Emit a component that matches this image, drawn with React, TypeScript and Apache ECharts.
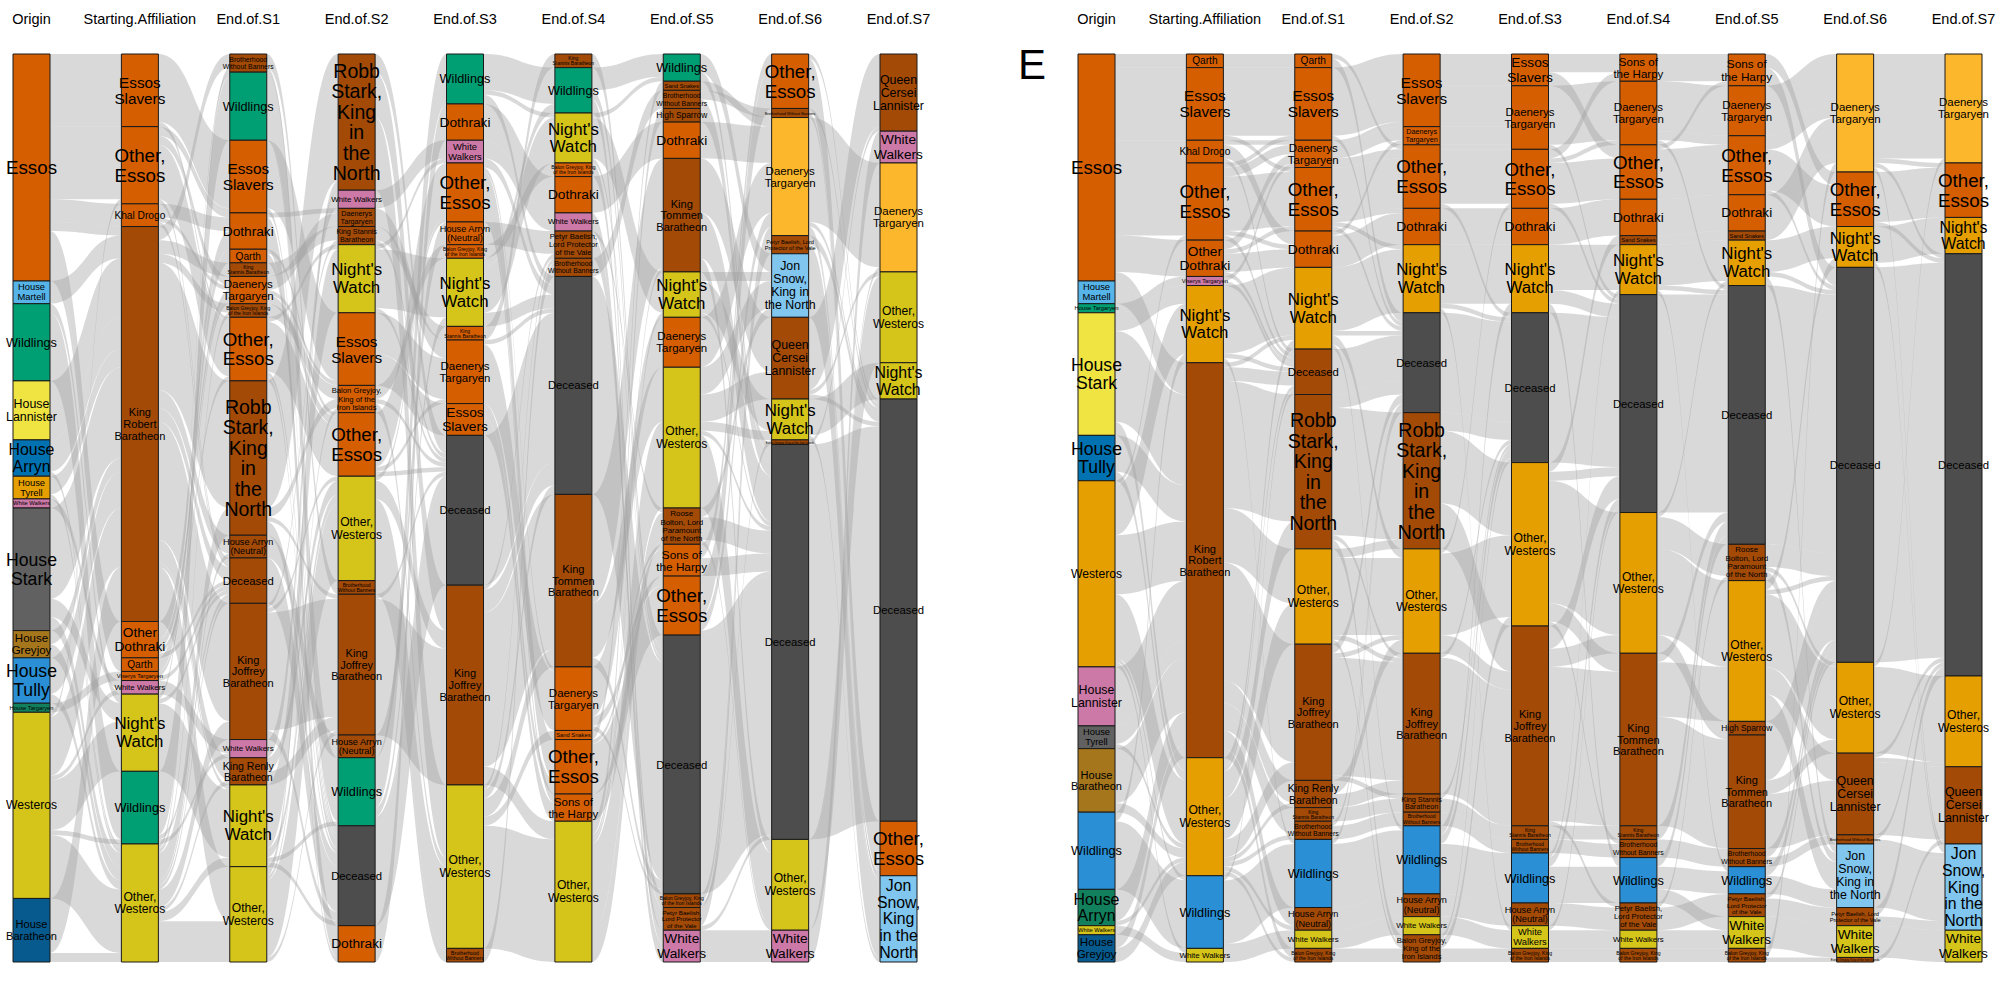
import React, { useEffect, useRef } from "react";
import * as echarts from "echarts";

// ---------- names ----------
const ES = "Essos Slavers", OE = "Other, Essos", KD = "Khal Drogo", KRB = "King Robert Baratheon";
const OD = "Other Dothraki", QA = "Qarth", VT = "Viserys Targaryen", WW = "White Walkers";
const NW = "Night's Watch", WI = "Wildlings", OW = "Other, Westeros", BWB = "Brotherhood Without Banners";
const DO = "Dothraki", KSB = "King Stannis Baratheon", DT = "Daenerys Targaryen";
const BG = "Balon Greyjoy, King of the Iron Islands", RS = "Robb Stark, King in the North";
const HAN = "House Arryn (Neutral)", DEC = "Deceased", KJB = "King Joffrey Baratheon";
const KRN = "King Renly Baratheon", PB = "Petyr Baelish, Lord Protector of the Vale";
const KTB = "King Tommen Baratheon", SS = "Sand Snakes", SH = "Sons of the Harpy", HSP = "High Sparrow";
const RB = "Roose Bolton, Lord Paramount of the North", JS = "Jon Snow, King in the North";
const QCL = "Queen Cersei Lannister", EG = "Euron Greyjoy, King of the Iron Islands";

const COLUMN_TITLES = ["Origin", "Starting.Affiliation", "End.of.S1", "End.of.S2", "End.of.S3", "End.of.S4", "End.of.S5", "End.of.S6", "End.of.S7"];

// ---------- node sizes per column (panel-left order) ----------
const origin: [string, number][] = [["Essos", 50], ["House Martell", 5], [WI, 17], ["House Lannister", 13], ["House Arryn", 8], ["House Tyrell", 5], [WW, 2], ["House Stark", 27], ["House Greyjoy", 6], ["House Tully", 10], ["House Targaryen", 2], ["Westeros", 41], ["House Baratheon", 14]];
const startingAffiliation: [string, number][] = [[ES, 16], [OE, 17], [KD, 5], [KRB, 87], [OD, 8], [QA, 3], [VT, 2], [WW, 3], [NW, 17], [WI, 16], [OW, 26]];
const endS1: [string, number][] = [[BWB, 4], [WI, 15], [ES, 16], [DO, 8], [QA, 3], [KSB, 3], [DT, 6], [BG, 3], [OE, 14], [RS, 34], [HAN, 5], [DEC, 10], [KJB, 30], [WW, 4], [KRN, 6], [NW, 18], [OW, 21]];
const endS2: [string, number][] = [[RS, 30], [WW, 4], [DT, 4], [KSB, 4], [NW, 15], [ES, 16], [BG, 6], [OE, 14], [OW, 23], [BWB, 3], [KJB, 31], [HAN, 5], [WI, 15], [DEC, 22], [DO, 8]];
const endS3: [string, number][] = [[WI, 11], [DO, 8], [WW, 5], [OE, 13], [HAN, 5], [BG, 3], [NW, 15], [KSB, 3], [DT, 14], [ES, 7], [DEC, 33], [KJB, 44], [OW, 36], [BWB, 3]];
const endS4: [string, number][] = [[KSB, 3], [WI, 10], [NW, 11], [BG, 3], [DO, 8], [WW, 4], [PB, 6], [BWB, 4], [DEC, 48], [KTB, 38], [DT, 14], [SS, 2], [OE, 12], [SH, 6], [OW, 31]];
const endS5: [string, number][] = [[WI, 6], [SS, 2], [BWB, 4], [HSP, 3], [DO, 8], [KTB, 25], [NW, 10], [DT, 11], [OW, 31], [RB, 8], [SH, 7], [OE, 13], [DEC, 57], [BG, 3], [PB, 5], [WW, 7]];
const endS6: [string, number][] = [[OE, 12], [BWB, 2], [DT, 26], [PB, 4], [JS, 14], [QCL, 18], [NW, 9], [EG, 1], [DEC, 87], [OW, 20], [WW, 7]];
const endS7: [string, number][] = [[QCL, 17], [WW, 7], [DT, 24], [OW, 20], [NW, 8], [DEC, 93], [OE, 12], [JS, 19]];

// ---------- flows between consecutive columns ----------
const flowOriginStart: [string, string, number][] = [
  ["Essos", ES, 16], ["Essos", OE, 16], ["Essos", KD, 5], ["Essos", OD, 8], ["Essos", QA, 3], ["Essos", KRB, 2],
  ["House Martell", KRB, 5], [WI, WI, 15], [WI, NW, 2], ["House Lannister", KRB, 13],
  ["House Arryn", KRB, 7], ["House Arryn", OW, 1], ["House Tyrell", KRB, 4], ["House Tyrell", OW, 1], [WW, WW, 2],
  ["House Stark", KRB, 20], ["House Stark", NW, 4], ["House Stark", OW, 3], ["House Greyjoy", KRB, 3], ["House Greyjoy", OW, 3],
  ["House Tully", KRB, 8], ["House Tully", OW, 2], ["House Targaryen", VT, 2],
  ["Westeros", KRB, 13], ["Westeros", NW, 11], ["Westeros", OW, 14], ["Westeros", WI, 1], ["Westeros", OE, 1], ["Westeros", WW, 1],
  ["House Baratheon", KRB, 12], ["House Baratheon", OW, 2],
];
const flowStartS1: [string, string, number][] = [
  [ES, ES, 15], [ES, OE, 1], [OE, OE, 12], [OE, DT, 2], [OE, DO, 1], [OE, DEC, 1], [OE, ES, 1],
  [KD, DT, 1], [KD, DO, 3], [KD, DEC, 1], [OD, DO, 4], [OD, DT, 2], [OD, DEC, 1], [OD, OE, 1],
  [QA, QA, 3], [VT, DEC, 1], [VT, DT, 1], [WW, WW, 3], [NW, NW, 15], [NW, DEC, 1], [NW, WI, 1],
  [WI, WI, 14], [WI, DEC, 1], [WI, WW, 1],
  [KRB, NW, 1], [KRB, DEC, 3], [KRB, RS, 28], [KRB, KJB, 26], [KRB, KSB, 3], [KRB, KRN, 5], [KRB, BG, 2], [KRB, HAN, 4], [KRB, BWB, 3], [KRB, OW, 12],
  [OW, NW, 2], [OW, DEC, 1], [OW, RS, 6], [OW, KJB, 4], [OW, KRN, 1], [OW, BG, 1], [OW, HAN, 1], [OW, BWB, 1], [OW, OW, 9],
];
const flowS1S2: [string, string, number][] = [
  [BWB, BWB, 3], [BWB, DEC, 1], [WI, WI, 14], [WI, DEC, 1], [ES, ES, 15], [ES, DEC, 1], [DO, DO, 7], [DO, DT, 1],
  [QA, DEC, 2], [QA, OE, 1], [KSB, KSB, 3], [DT, DT, 3], [DT, OE, 2], [DT, ES, 1], [BG, BG, 3],
  [OE, OE, 11], [OE, DO, 1], [OE, DEC, 1], [OE, NW, 1], [RS, RS, 28], [RS, DEC, 3], [RS, BG, 2], [RS, KJB, 1],
  [HAN, HAN, 5], [DEC, DEC, 10], [KJB, KJB, 26], [KJB, DEC, 2], [KJB, KSB, 1], [KJB, OW, 1], [WW, WW, 4],
  [KRN, KJB, 3], [KRN, OW, 3], [NW, NW, 14], [NW, DEC, 1], [NW, WI, 1], [NW, OW, 2],
  [OW, BG, 1], [OW, RS, 2], [OW, KJB, 1], [OW, OW, 17],
];
const flowS2S3: [string, string, number][] = [
  [RS, DEC, 4], [RS, KJB, 10], [RS, OW, 16], [WW, WW, 4], [DT, DT, 4], [KSB, KSB, 3], [KSB, DEC, 1],
  [NW, NW, 13], [NW, DEC, 1], [NW, WW, 1], [ES, ES, 7], [ES, DT, 9], [BG, BG, 3], [BG, DEC, 1], [BG, OW, 2],
  [OE, OE, 12], [OE, DT, 1], [OE, DEC, 1], [OW, OE, 1], [OW, KJB, 4], [OW, OW, 18], [BWB, BWB, 3],
  [KJB, KJB, 30], [KJB, DEC, 1], [HAN, HAN, 5], [WI, WI, 11], [WI, NW, 2], [WI, DEC, 2], [DEC, DEC, 22], [DO, DO, 8],
];
const flowS3S4: [string, string, number][] = [
  [WI, WI, 8], [WI, DEC, 2], [WI, NW, 1], [DO, DO, 8], [WW, WW, 4], [WW, DEC, 1],
  [OE, OE, 9], [OE, SH, 2], [OE, DEC, 1], [OE, DT, 1], [HAN, PB, 5], [BG, BG, 3],
  [NW, NW, 10], [NW, DEC, 3], [NW, WI, 2], [KSB, KSB, 3], [DT, DT, 13], [DT, DEC, 1], [ES, SH, 4], [ES, OE, 3],
  [DEC, DEC, 33], [KJB, KTB, 34], [KJB, PB, 1], [KJB, DEC, 5], [KJB, OW, 4],
  [OW, OW, 27], [OW, BWB, 1], [OW, SS, 2], [OW, KTB, 4], [OW, DEC, 2], [BWB, BWB, 3],
];
const flowS4S5: [string, string, number][] = [
  [KSB, DEC, 3], [WI, WI, 5], [WI, DEC, 2], [WI, WW, 3], [NW, NW, 9], [NW, DEC, 1], [NW, WI, 1],
  [BG, BG, 3], [DO, DO, 8], [WW, WW, 4], [PB, PB, 5], [PB, RB, 1], [BWB, BWB, 4], [DEC, DEC, 48],
  [KTB, KTB, 24], [KTB, DEC, 2], [KTB, OW, 12], [DT, DT, 11], [DT, OE, 2], [DT, DEC, 1], [SS, SS, 2],
  [OE, OE, 11], [OE, SH, 1], [SH, SH, 6], [OW, NW, 1], [OW, KTB, 1], [OW, HSP, 3], [OW, RB, 7], [OW, OW, 19],
];
const flowS5S6: [string, string, number][] = [
  [WI, JS, 4], [WI, DEC, 2], [SS, DT, 2], [BWB, BWB, 2], [BWB, DEC, 2], [HSP, DEC, 3], [DO, DT, 8],
  [KTB, QCL, 12], [KTB, DEC, 10], [KTB, OW, 3], [NW, NW, 7], [NW, JS, 2], [NW, DEC, 1], [DT, DT, 11],
  [OW, JS, 6], [OW, QCL, 6], [OW, NW, 2], [OW, DEC, 1], [OW, OW, 16], [RB, DEC, 5], [RB, JS, 2], [RB, OW, 1],
  [SH, DEC, 4], [SH, OE, 3], [OE, OE, 9], [OE, DT, 3], [OE, DEC, 1], [DEC, DEC, 57], [BG, EG, 1], [BG, DT, 2],
  [PB, PB, 4], [PB, DEC, 1], [WW, WW, 7],
];
const flowS6S7: [string, string, number][] = [
  [OE, OE, 11], [OE, DEC, 1], [BWB, JS, 1], [BWB, DEC, 1], [DT, DT, 23], [DT, OE, 1], [DT, DEC, 1], [DT, JS, 1],
  [PB, JS, 2], [PB, DEC, 2], [JS, JS, 14], [QCL, QCL, 16], [QCL, DEC, 1], [QCL, OW, 1], [NW, NW, 8], [NW, JS, 1],
  [EG, QCL, 1], [DEC, DEC, 87], [OW, OW, 19], [OW, DT, 1], [WW, WW, 7],
];

// ---------- right panel ordering ----------
const rightOrder: string[][] = [
  ["Essos", "House Martell", "House Targaryen", "House Stark", "House Tully", "Westeros", "House Lannister", "House Tyrell", "House Baratheon", WI, "House Arryn", WW, "House Greyjoy"],
  [QA, ES, KD, OE, OD, VT, NW, KRB, OW, WI, WW],
  [QA, ES, DT, OE, DO, NW, DEC, RS, OW, KJB, KRN, KSB, BWB, WI, HAN, WW, BG],
  [ES, DT, OE, DO, NW, DEC, RS, OW, KJB, KSB, BWB, WI, HAN, WW, BG],
  [ES, DT, OE, DO, NW, DEC, OW, KJB, KSB, BWB, WI, HAN, WW, BG],
  [SH, DT, OE, DO, SS, NW, DEC, OW, KTB, KSB, BWB, WI, PB, WW, BG],
  [SH, DT, OE, DO, SS, NW, DEC, RB, OW, HSP, KTB, BWB, WI, PB, WW, BG],
  [DT, OE, NW, DEC, OW, QCL, BWB, JS, PB, WW, EG],
  [DT, OE, NW, DEC, OW, QCL, JS, WW],
];

// ---------- colours (one code per node, in panel order) ----------
const leftColorCodes = ["OSGLDAPKRTNYV", "OOOBOOOPYGY", "BGOOOBOBOBBBBPBYY", "BPBBYOOOYBBBGXO", "GOPOOOYOOOXBYB", "BGYOOPBBXBOOOOY", "GBBBOBYOYBOOXBBP", "OBFBJBYBXYP", "BPFYYXOJ"];
const rightColorCodes = ["OSGLDAPKRTNYV", "OOOOOPABATY", "OOOOOABBABBBBTBYB", "OOOOAXBABBBTBYB", "OOOOAXABBBTBYB", "OOOOBAXABBBTBYB", "OOOOBAXBABBBTBYB", "FOAXABBJBYB", "FOAXABJY"];
const PALETTE: Record<string, string> = {
  O: "#D55E00", B: "#A34A06", G: "#009E73", P: "#CC79A7", Y: "#D5C41A", L: "#F0E442", A: "#E69F00",
  S: "#56B4E9", D: "#0072B2", K: "#616161", X: "#4D4D4D", R: "#A6761D", T: "#2A8FD4", N: "#12805C",
  V: "#075A8E", F: "#FDB72C", J: "#80C6EF",
};

const columns = [origin, startingAffiliation, endS1, endS2, endS3, endS4, endS5, endS6, endS7];
const flows = [flowOriginStart, flowStartS1, flowS1S2, flowS2S3, flowS3S4, flowS4S5, flowS5S6, flowS6S7];

// ---------- layout constants ----------
const FONT = '"Liberation Sans", Arial, Helvetica, sans-serif';
const PANEL_TOP = 54, PANEL_H = 908, PANEL_W = 904, NODE_W = 37;
const LEFT_X = 13, RIGHT_X = 1078;
const MAX_TEXT_W = 51, LH = 1.05, PAD = 3, MAX_F = 22;

function makeMeasurer() {
  const c = document.createElement("canvas");
  const ctx = c.getContext("2d") as CanvasRenderingContext2D;
  ctx.font = `100px ${FONT}`;
  return (s: string) => ctx.measureText(s).width / 100;
}

function fitLabel(text: string, boxH: number, measure: (s: string) => number) {
  const words = text.split(" ");
  const n = words.length;
  let best = { lines: [text], size: 0 };
  for (let mask = 0; mask < 1 << (n - 1); mask++) {
    const lines: string[] = [];
    let cur = words[0];
    for (let i = 1; i < n; i++) {
      if (mask & (1 << (i - 1))) { lines.push(cur); cur = words[i]; } else cur += " " + words[i];
    }
    lines.push(cur);
    const w = Math.max(...lines.map(measure));
    const sizeW = MAX_TEXT_W / w;
    const sizeH = Math.max(boxH - PAD, 3) / (lines.length * LH);
    const size = Math.min(sizeW, sizeH, MAX_F);
    const better = size > best.size * 1.01 || (size > best.size * 0.995 && lines.length > best.lines.length);
    if (better) best = { lines, size };
  }
  return best;
}

function buildSeries(panel: string, x: number, orders: string[][], codes: string[], measure: (s: string) => number) {
  const total = origin.reduce((s, d) => s + d[1], 0);
  const data: any[] = [];
  orders.forEach((names, d) => {
    const valMap = new Map(columns[d]);
    names.forEach((name, i) => {
      const value = valMap.get(name) || 0;
      const boxH = (value / total) * PANEL_H;
      const fit = fitLabel(name, boxH, measure);
      data.push({
        name: `${panel}|${d}|${name}`,
        value,
        depth: d,
        itemStyle: { color: PALETTE[codes[d][i]] },
        label: { formatter: fit.lines.join("\n"), fontSize: fit.size, lineHeight: fit.size * LH },
      });
    });
  });
  const links: any[] = [];
  flows.forEach((gap, d) =>
    gap.forEach(([s, t, v]) => links.push({ source: `${panel}|${d}|${s}`, target: `${panel}|${d + 1}|${t}`, value: v }))
  );
  return {
    type: "sankey",
    left: x, top: PANEL_TOP, width: PANEL_W, height: PANEL_H,
    nodeWidth: NODE_W, nodeGap: 0, layoutIterations: 0, draggable: false,
    nodeAlign: "left",
    data, links,
    itemStyle: { borderColor: "#1a1a1a", borderWidth: 1 },
    lineStyle: { color: "#a0a0a0", opacity: 0.4, curveness: 0.5 },
    label: { show: true, position: "inside", color: "#000", fontFamily: FONT, align: "center", verticalAlign: "middle" },
    emphasis: { disabled: true },
    silent: true,
  };
}

function headers(x0: number) {
  const step = (PANEL_W - NODE_W) / (COLUMN_TITLES.length - 1);
  return COLUMN_TITLES.map((t, d) => ({
    type: "text",
    x: x0 + NODE_W / 2 + d * step,
    y: 19,
    style: { text: t, fontSize: 14.5, fontFamily: FONT, fill: "#000", align: "center", verticalAlign: "middle", textAlign: "center", textVerticalAlign: "middle" },
  }));
}

export default function App() {
  const ref = useRef<HTMLDivElement>(null);
  useEffect(() => {
    if (!ref.current) return;
    const chart = echarts.init(ref.current, null, { renderer: "svg" });
    const measure = makeMeasurer();
    const leftOrder = columns.map((c) => c.map(([n]) => n));
    chart.setOption({
      animation: false,
      backgroundColor: "#ffffff",
      graphic: [
        ...headers(LEFT_X),
        ...headers(RIGHT_X),
        { type: "text", x: 1032, y: 64, style: { text: "E", fontSize: 42, fontFamily: FONT, fill: "#000", align: "center", verticalAlign: "middle", textAlign: "center", textVerticalAlign: "middle" } },
      ],
      series: [
        buildSeries("L", LEFT_X, leftOrder, leftColorCodes, measure),
        buildSeries("R", RIGHT_X, rightOrder, rightColorCodes, measure),
      ],
    });
    return () => chart.dispose();
  }, []);
  return <div ref={ref} style={{ position: "fixed", left: 0, top: 0, width: 2000, height: 981, background: "#fff" }} />;
}
